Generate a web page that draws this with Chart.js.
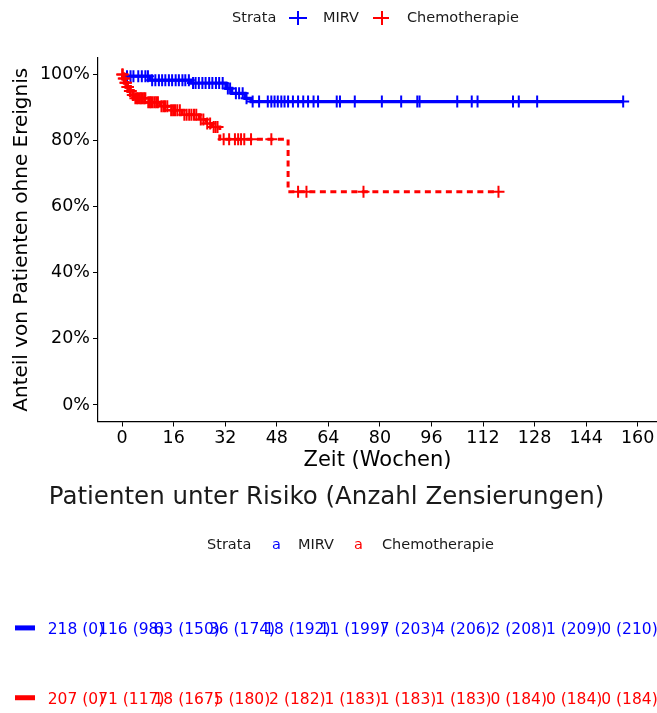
<!DOCTYPE html>
<html>
<head>
<meta charset="utf-8">
<script src="https://cdn.jsdelivr.net/npm/chart.js@4.4.1/dist/chart.umd.min.js"></script>
<style>
  html, body { margin: 0; padding: 0; background: #ffffff; overflow: hidden; }
  canvas { display: block; }
</style>
</head>
<body>
<canvas id="km" width="657" height="475"></canvas>
<canvas id="risk" width="657" height="238"></canvas>
<script>
// ---- data -------------------------------------------------------------
const strataNames = ['MIRV', 'Chemotherapie'];
const xTickWeeks = [0, 16, 32, 48, 64, 80, 96, 112, 128, 144, 160];
const yTickPercent = [0, 20, 40, 60, 80, 100];

// Kaplan-Meier step points (weeks, % without event)
const mirvTimes = [0, 1, 8.7, 21.2, 32.2, 34, 38.1, 40, 155.5];
const mirvSurv  = [100, 99.5, 98.3, 97.4, 95.8, 94.3, 92.8, 91.8, 91.8];
const chemoTimes = [0, 0.3, 0.8, 1.4, 2.2, 3, 3.8, 7.8, 11.8, 14.9, 18.6, 23.9, 26, 27.9, 30.3, 51.5, 117];
const chemoSurv  = [100, 98.8, 97.5, 96.2, 95, 93.8, 92.8, 91.6, 90.4, 89.2, 87.8, 86.4, 85.2, 84.1, 80.4, 64.5, 64.5];

// censoring times (weeks)
const mirvCensor = [1.5, 2.6, 3.5, 5, 6.1, 7.2, 8, 9.3, 10.3, 11.4, 12.4, 13.4, 14.5, 15.5, 16.6,
  17.6, 18.7, 19.6, 20.7, 22, 22.8, 23.8, 24.9, 25.9, 27, 28, 29.1, 30.1, 31.2, 32.8, 33.5,
  35.3, 36.3, 37.4, 38.6, 40.5, 42.5, 45.2, 46.3, 47.3, 48.3, 49.4, 50.4, 51.5, 53, 54.6,
  56.2, 57.7, 59.4, 60.8, 66.6, 67.6, 72.2, 80.6, 86.6, 91.6, 92.3, 104, 108.5, 110.3,
  121.3, 123.1, 128.8, 155.5];
const chemoCensor = [0, 0.2, 0.5, 0.7, 1.0, 1.2, 1.6, 1.8, 2.4, 2.7, 3.3, 3.6, 4.1, 4.6, 5.0,
  5.5, 5.9, 6.3, 6.8, 7.2, 8.1, 8.6, 9.0, 9.5, 10.1, 10.6, 11.1, 12.2, 12.8, 13.3, 14.0,
  15.2, 15.8, 16.4, 17.1, 17.9, 19.3, 20.0, 20.8, 21.5, 22.3, 23.0, 24.4, 25.2, 26.4, 27.3,
  28.4, 29.0, 29.6, 31.5, 33.2, 35, 36, 36.9, 37.9, 40, 46.3, 54.6, 57.2, 74.9, 116.8];

// number at risk table
const riskTimes = [0, 16, 32, 48, 64, 80, 96, 112, 128, 144, 160];
const mirvAtRisk    = [218, 116, 63, 36, 18, 11, 7, 4, 2, 1, 0];
const mirvCensored  = [0, 98, 150, 174, 192, 199, 203, 206, 208, 209, 210];
const chemoAtRisk   = [207, 71, 18, 5, 2, 1, 1, 1, 0, 0, 0];
const chemoCensored = [0, 117, 167, 180, 182, 183, 183, 183, 184, 184, 184];

// ---- styling ----------------------------------------------------------
const FONT = '"DejaVu Sans", "Liberation Sans", sans-serif';
const BLUE = '#0000ff';
const RED = '#ff0000';
const TEXT = '#1a1a1a';
Chart.defaults.font.family = FONT;

function stepPoints(times, surv) {
  return times.map((t, i) => ({ x: t, y: surv[i] }));
}
// survival value in effect at time t (last step at or before t)
function survAt(times, surv, t) {
  let v = surv[0];
  for (let i = 0; i < times.length; i++) { if (times[i] <= t) v = surv[i]; }
  return v;
}
function censorPoints(cens, times, surv) {
  return cens.map(t => ({ x: t, y: survAt(times, surv, t) }));
}

function drawCrossKey(ctx, cx, cy, color, dashed) {
  ctx.save();
  ctx.strokeStyle = color;
  ctx.lineWidth = 2;
  ctx.setLineDash(dashed ? [4, 2] : []);
  ctx.beginPath(); ctx.moveTo(cx - 9, cy); ctx.lineTo(cx + 9, cy); ctx.stroke();
  ctx.setLineDash([]);
  ctx.beginPath(); ctx.moveTo(cx, cy - 7); ctx.lineTo(cx, cy + 7); ctx.stroke();
  ctx.beginPath(); ctx.moveTo(cx - 7, cy); ctx.lineTo(cx + 7, cy); ctx.stroke();
  ctx.restore();
}

const kmLegend = {
  id: 'kmLegend',
  afterDraw(chart) {
    const ctx = chart.ctx;
    const y = 18;
    ctx.save();
    ctx.font = '14.5px ' + FONT;
    ctx.fillStyle = TEXT;
    ctx.textBaseline = 'middle';
    ctx.textAlign = 'left';
    ctx.fillText('Strata', 232, y);
    drawCrossKey(ctx, 298, y, BLUE, false);
    ctx.fillText(strataNames[0], 323, y);
    drawCrossKey(ctx, 382, y, RED, true);
    ctx.fillText(strataNames[1], 407, y);
    ctx.restore();
  }
};

new Chart(document.getElementById('km'), {
  type: 'line',
  data: {
    datasets: [
      {
        label: strataNames[1] + ' censored',
        data: censorPoints(chemoCensor, chemoTimes, chemoSurv),
        showLine: false, pointStyle: 'cross', pointRadius: 6,
        pointBorderWidth: 2, borderColor: RED, backgroundColor: RED
      },
      {
        label: strataNames[1],
        data: stepPoints(chemoTimes, chemoSurv),
        stepped: 'before', borderColor: RED, borderWidth: 3,
        borderDash: [6, 4.5], pointRadius: 0, fill: false
      },
      {
        label: strataNames[0] + ' censored',
        data: censorPoints(mirvCensor, mirvTimes, mirvSurv),
        showLine: false, pointStyle: 'cross', pointRadius: 6,
        pointBorderWidth: 2, borderColor: BLUE, backgroundColor: BLUE
      },
      {
        label: strataNames[0],
        data: stepPoints(mirvTimes, mirvSurv),
        stepped: 'before', borderColor: BLUE, borderWidth: 3.2,
        pointRadius: 0, fill: false
      }
    ]
  },
  options: {
    responsive: false,
    animation: false,
    devicePixelRatio: 1,
    // the panel runs to the right edge of the canvas
    layout: { autoPadding: false, padding: { top: 58, left: 0, right: 0, bottom: 0 } },
    plugins: { legend: { display: false }, tooltip: { enabled: false } },
    scales: {
      x: {
        type: 'linear', min: -7.5, max: 166,
        afterBuildTicks: s => { s.ticks = xTickWeeks.map(v => ({ value: v })); },
        afterFit: s => { s.height = 53.5; s.paddingLeft = 0; s.paddingRight = 0; },
        grid: { display: true, drawOnChartArea: false, drawTicks: true, tickLength: 5, color: '#000', lineWidth: 1 },
        border: { display: true, color: '#000', width: 1.2 },
        ticks: { font: { family: FONT, size: 17.5 }, color: '#000', padding: 1, maxRotation: 0, autoSkip: false },
        title: { display: true, text: 'Zeit (Wochen)', font: { family: FONT, size: 21 }, color: '#000', padding: { top: 0, bottom: 2 } }
      },
      y: {
        type: 'linear', min: -5, max: 105,
        afterBuildTicks: s => { s.ticks = yTickPercent.map(v => ({ value: v })); },
        afterFit: s => { s.width = 98; },
        grid: { display: true, drawOnChartArea: false, drawTicks: true, tickLength: 5, color: '#000', lineWidth: 1 },
        border: { display: true, color: '#000', width: 1.2 },
        ticks: { font: { family: FONT, size: 17.5 }, color: '#000', padding: 3, callback: v => v + '%' },
        title: { display: true, text: 'Anteil von Patienten ohne Ereignis', font: { family: FONT, size: 20 }, color: '#000', padding: { top: 10, bottom: 0 } }
      }
    }
  },
  plugins: [kmLegend]
});

// ---- number at risk panel ---------------------------------------------
const riskRows = [
  { name: strataNames[0], row: 1, color: BLUE, atRisk: mirvAtRisk, censored: mirvCensored },
  { name: strataNames[1], row: 0, color: RED, atRisk: chemoAtRisk, censored: chemoCensored }
];

const riskTable = {
  id: 'riskTable',
  afterDraw(chart) {
    const ctx = chart.ctx;
    const xs = chart.scales.x, ys = chart.scales.y;
    ctx.save();
    // legend of the table
    const ly = 70;
    ctx.font = '14.5px ' + FONT;
    ctx.textBaseline = 'middle';
    ctx.textAlign = 'left';
    ctx.fillStyle = TEXT;
    ctx.fillText('Strata', 207, ly);
    ctx.fillStyle = BLUE; ctx.fillText('a', 272, ly);
    ctx.fillStyle = TEXT; ctx.fillText(strataNames[0], 298, ly);
    ctx.fillStyle = RED; ctx.fillText('a', 354, ly);
    ctx.fillStyle = TEXT; ctx.fillText(strataNames[1], 382, ly);

    // rows
    ctx.font = '15.5px ' + FONT;
    ctx.textAlign = 'center';
    riskRows.forEach(r => {
      const y = ys.getPixelForValue(r.row);
      ctx.fillStyle = r.color;
      ctx.fillRect(15, y - 4.5, 20, 5);
      riskTimes.forEach((t, i) => {
        ctx.fillText(r.atRisk[i] + ' (' + r.censored[i] + ')', xs.getPixelForValue(t), y);
      });
    });
    ctx.restore();
  }
};

new Chart(document.getElementById('risk'), {
  type: 'line',
  data: { datasets: [] },
  options: {
    responsive: false,
    animation: false,
    devicePixelRatio: 1,
    layout: { autoPadding: false, padding: { top: 0, left: 0, right: 4, bottom: 0 } },
    plugins: {
      legend: { display: false },
      tooltip: { enabled: false },
      title: {
        display: true,
        text: 'Patienten unter Risiko (Anzahl Zensierungen)',
        font: { family: FONT, size: 24.5, weight: 'normal' },
        color: TEXT,
        padding: { top: 8, bottom: 82.6 }
      }
    },
    scales: {
      x: { type: 'linear', display: false, min: -7.5, max: 166.8 },
      y: {
        type: 'linear', display: true, min: -0.19, max: 1.5,
        afterFit: s => { s.width = 50; },
        ticks: { display: false }, grid: { display: false }, border: { display: false }
      }
    }
  },
  plugins: [riskTable]
});
</script>
</body>
</html>
